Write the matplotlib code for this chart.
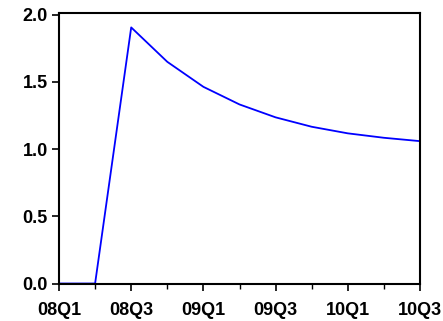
import matplotlib
matplotlib.use("Agg")
import matplotlib.pyplot as plt
from matplotlib.ticker import MultipleLocator

quarters = ["08Q1", "08Q2", "08Q3", "08Q4", "09Q1", "09Q2", "09Q3",
            "09Q4", "10Q1", "10Q2", "10Q3"]
values = [0.0, 0.0, 1.905, 1.649, 1.463, 1.332, 1.236, 1.166, 1.117, 1.084, 1.059]

plt.rcParams["font.family"] = ["Liberation Sans", "DejaVu Sans"]
plt.rcParams["font.weight"] = "bold"

fig = plt.figure(figsize=(4.43, 3.21), dpi=100)
ax = fig.add_axes([59 / 443, 1 - 283.5 / 321, (420 - 59) / 443, (283.5 - 13.3) / 321])

x = list(range(len(quarters)))
ax.plot(x, values, color="#0000ff", lw=1.3)

ax.set_xlim(0, len(quarters) - 1)
ax.set_ylim(0, 2.01)
ax.set_xticks(x[::2])
ax.set_xticklabels(quarters[::2])
ax.xaxis.set_minor_locator(MultipleLocator(1))
ax.set_yticks([0, 0.5, 1.0, 1.5, 2.0])
ax.set_yticklabels(["0.0", "0.5", "1.0", "1.5", "2.0"])

for s in ax.spines.values():
    s.set_linewidth(1.5)
    s.set_color("black")

ax.tick_params(axis="both", which="major", direction="out", length=5, width=1.2,
               labelsize=13)
ax.tick_params(axis="x", which="major", pad=8)
ax.tick_params(axis="y", which="major", pad=3)
ax.tick_params(axis="x", which="minor", direction="out", length=3.5, width=1.0)

for lab in ax.get_xticklabels() + ax.get_yticklabels():
    lab.set_fontweight("bold")

fig.savefig("out.png", dpi=100)
